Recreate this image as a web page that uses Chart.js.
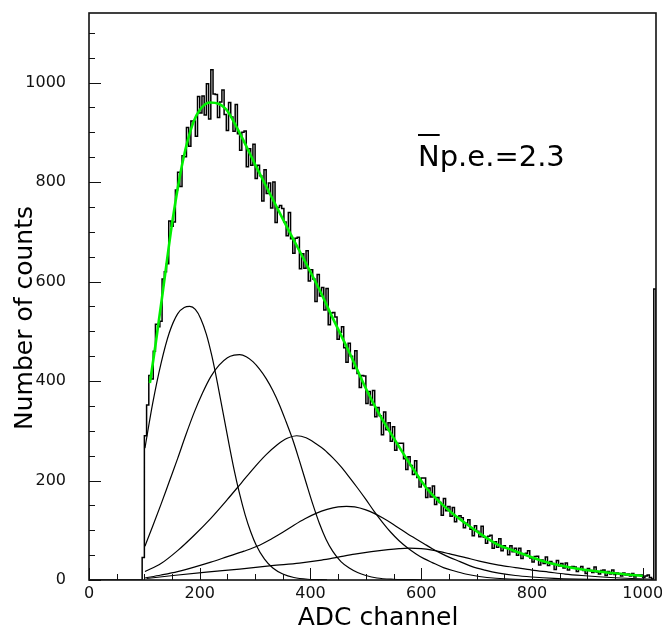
<!DOCTYPE html>
<html>
<head>
<meta charset="utf-8">
<script src="https://cdn.jsdelivr.net/npm/chart.js@4.4.0/dist/chart.umd.min.js"></script>
<style>
  html, body { margin: 0; padding: 0; background: #fff; }
  canvas { display: block; }
</style>
</head>
<body>
<canvas id="adc" width="662" height="626"></canvas>
<script>
// measured spectrum, 4-channel bins starting at ADC channel 96 (last bin = overflow pile-up)
const binStart = 96;
const binWidth = 4;
const counts = [45, 290, 352,
  411, 404, 460, 514, 509, 520, 605, 620, 636, 722,
  711, 720, 784, 820, 791, 853, 851, 910, 872, 923,
  923, 892, 972, 939, 973, 935, 998, 927, 1026, 977,
  976, 930, 961, 985, 936, 904, 960, 931, 902, 956,
  897, 864, 900, 903, 831, 867, 834, 876, 807, 834,
  813, 762, 825, 777, 798, 748, 800, 719, 749, 753,
  747, 720, 692, 739, 686, 657, 687, 689, 626, 656,
  627, 662, 601, 624, 605, 560, 614, 571, 588, 543,
  586, 513, 537, 538, 529, 484, 498, 509, 467, 438,
  476, 450, 425, 461, 415, 387, 411, 410, 355, 379,
  352, 381, 328, 347, 330, 292, 338, 302, 316, 279,
  308, 261, 275, 275, 275, 244, 222, 248, 230, 212,
  240, 206, 187, 205, 205, 166, 185, 167, 189, 152,
  166, 156, 130, 164, 139, 148, 128, 146, 117, 127,
  129, 125, 105, 114, 121, 102, 89, 109, 98, 87,
  108, 86, 74, 88, 90, 64, 77, 66, 83, 59,
  69, 64, 51, 69, 57, 64, 50, 64, 43, 53,
  54, 59, 44, 36, 47, 48, 30, 40, 33, 46,
  29, 37, 33, 21, 39, 28, 33, 24, 34, 20,
  26, 27, 26, 17, 23, 27, 19, 13, 23, 19,
  15, 26, 16, 12, 19, 20, 9, 17, 12, 20,
  11, 14, 12, 8, 14, 10, 12, 8, 13, 6,
  10, 10, 10, 5, 8, 10, 5, 2,
  585];

// total fit (green)
const fitCh  = [110, 120, 133, 151, 170, 188, 200, 218, 235, 248, 272, 302, 332, 362, 380, 416, 440, 470, 500, 524, 560, 585, 610, 635, 656, 680, 705, 740, 765, 825, 885, 945, 1000];
const fitVal = [396, 472, 577, 724, 845, 919, 945, 960, 957, 946, 899, 831, 765, 700, 662, 584, 527, 458, 385, 334, 268, 224, 184, 155, 134, 114, 94, 70, 60, 36, 22, 14, 8];

// n photo-electron components, [channel, counts]
const pe1 = [[101, 265], [115, 355], [130, 435], [145, 497], [160, 535], [172, 548], [182, 550], [192, 544], [202, 525], [212, 494], [222, 450], [232, 396], [242, 337], [252, 278], [262, 222], [272, 173], [282, 131], [292, 97], [302, 70], [317, 42], [332, 24], [350, 12], [370, 5], [395, 1.5], [430, 0.3]];
const pe2 = [[101, 68], [115, 108], [130, 152], [145, 198], [160, 244], [175, 292], [190, 337], [205, 376], [220, 409], [235, 432], [250, 447], [262, 452], [272, 453], [284, 449], [296, 439], [308, 424], [320, 405], [332, 381], [344, 352], [356, 318], [368, 282], [380, 240], [392, 196], [404, 153], [416, 114], [428, 82], [440, 58], [455, 37], [470, 24], [485, 15], [500, 9], [520, 4], [550, 1.5], [600, 0.3]];
const pe3 = [[101, 17], [130, 33], [160, 59], [190, 90], [220, 124], [250, 162], [275, 195], [300, 228], [320, 252], [340, 272], [358, 285], [375, 290], [392, 286], [410, 274], [425, 262], [440, 246], [455, 228], [470, 207], [485, 185], [500, 162], [515, 138], [530, 116], [545, 96], [560, 79], [575, 65], [590, 53], [605, 43], [620, 35], [640, 25], [660, 18], [680, 12], [705, 7], [735, 3.5], [770, 1.5], [820, 0.5]];
const pe4 = [[101, 4], [130, 10], [160, 17], [190, 26], [220, 36], [250, 47], [280, 58], [308, 70], [330, 83], [350, 96], [370, 110], [390, 123], [410, 134], [430, 142], [450, 147], [465, 148], [480, 147], [500, 141], [515, 134], [530, 125], [545, 115], [560, 104], [575, 93], [590, 83], [605, 73], [620, 63], [635, 54], [650, 46], [670, 37], [692, 27], [715, 20], [740, 14], [770, 9], [800, 6], [840, 3.3], [880, 1.8], [930, 0.8], [1000, 0.3]];
const pe5 = [[104, 3], [152, 9], [212, 16], [272, 22], [330, 29], [380, 34], [420, 40], [450, 46], [480, 52], [510, 57], [540, 61], [560, 63], [578, 64], [600, 63], [620, 60], [650, 53], [680, 45], [705, 38], [740, 30], [770, 25], [800, 20], [830, 16], [860, 12], [890, 9], [920, 6.5], [950, 4.5], [980, 3], [1020, 1.5]];

const xTicks = [0, 200, 400, 600, 800, 1000];
const yTicks = [0, 200, 400, 600, 800, 1000];

const FONT = "'DejaVu Sans', sans-serif";

function histPoints() {
  const pts = [{x: 0, y: 0}];
  counts.forEach((c, i) => pts.push({x: binStart + i * binWidth, y: c}));
  pts.push({x: binStart + counts.length * binWidth, y: 0});
  return pts;
}

function curve(pairs) {
  return pairs.map(p => ({x: p[0], y: p[1]}));
}

function component(pairs) {
  return {
    data: curve(pairs),
    borderColor: '#000',
    borderWidth: 1.2,
    pointRadius: 0,
    cubicInterpolationMode: 'monotone',
    order: 1
  };
}

// ROOT style frame, inward ticks and the text
const rootAxes = {
  id: 'rootAxes',
  afterDraw(chart) {
    const {ctx, chartArea: a, scales} = chart;
    const x = scales.x, y = scales.y;
    ctx.save();
    ctx.strokeStyle = '#111';
    ctx.lineWidth = 1;
    for (let v = 0; v <= 1000; v += 50) {
      const px = Math.round(x.getPixelForValue(v)) + 0.5;
      const len = xTicks.includes(v) ? 12 : 6;
      ctx.beginPath();
      ctx.moveTo(px, a.bottom);
      ctx.lineTo(px, a.bottom - len);
      ctx.stroke();
    }
    for (let v = 0; v <= 1100; v += 50) {
      const py = Math.round(y.getPixelForValue(v)) + 0.5;
      const len = yTicks.includes(v) ? 12 : 6;
      ctx.beginPath();
      ctx.moveTo(a.left, py);
      ctx.lineTo(a.left + len, py);
      ctx.stroke();
    }
    ctx.lineWidth = 1.6;
    ctx.strokeRect(a.left, a.top, a.right - a.left, a.bottom - a.top);

    ctx.fillStyle = '#000';
    ctx.font = '25px ' + FONT;
    ctx.textAlign = 'center';
    ctx.textBaseline = 'alphabetic';
    ctx.fillText('ADC channel', 378, 625);

    ctx.save();
    ctx.translate(32, 318);
    ctx.rotate(-Math.PI / 2);
    ctx.fillText('Number of counts', 0, 0);
    ctx.restore();

    ctx.font = '29px ' + FONT;
    ctx.textAlign = 'left';
    ctx.fillText('Np.e.=2.3', 418, 166);
    const nw = ctx.measureText('N').width;
    ctx.lineWidth = 2;
    ctx.strokeStyle = '#000';
    ctx.beginPath();
    ctx.moveTo(418, 135);
    ctx.lineTo(418 + nw, 135);
    ctx.stroke();
    ctx.restore();
  }
};

new Chart(document.getElementById('adc'), {
  type: 'line',
  data: {
    datasets: [
      {
        data: curve(fitCh.map((c, i) => [c, fitVal[i]])),
        borderColor: '#00f000',
        borderWidth: 2.6,
        pointRadius: 0,
        cubicInterpolationMode: 'monotone',
        order: 0
      },
      component(pe1),
      component(pe2),
      component(pe3),
      component(pe4),
      component(pe5),
      {
        data: histPoints(),
        borderColor: '#000',
        borderWidth: 1.5,
        pointRadius: 0,
        stepped: 'before',
        order: 2
      }
    ]
  },
  options: {
    responsive: false,
    animation: false,
    parsing: false,
    layout: {padding: {top: 13, right: 6, left: 0, bottom: 0}},
    plugins: {legend: {display: false}, tooltip: {enabled: false}},
    scales: {
      x: {
        type: 'linear',
        min: 0,
        max: 1024,
        afterBuildTicks: s => { s.ticks = xTicks.map(v => ({value: v})); },
        afterFit: s => { s.height = 46; s.paddingLeft = 0; s.paddingRight = 0; },
        grid: {display: false},
        border: {display: false},
        ticks: {font: {family: FONT, size: 16}, color: '#111', padding: -4, maxRotation: 0, autoSkip: false, callback: v => String(v)}
      },
      y: {
        type: 'linear',
        min: 0,
        max: 1140,
        afterBuildTicks: s => { s.ticks = yTicks.map(v => ({value: v})); },
        afterFit: s => { s.width = 89; s.paddingTop = 0; s.paddingBottom = 0; },
        grid: {display: false},
        border: {display: false},
        ticks: {font: {family: FONT, size: 16}, color: '#111', padding: 15, autoSkip: false, callback: v => String(v)}
      }
    }
  },
  plugins: [rootAxes]
});
</script>
</body>
</html>
